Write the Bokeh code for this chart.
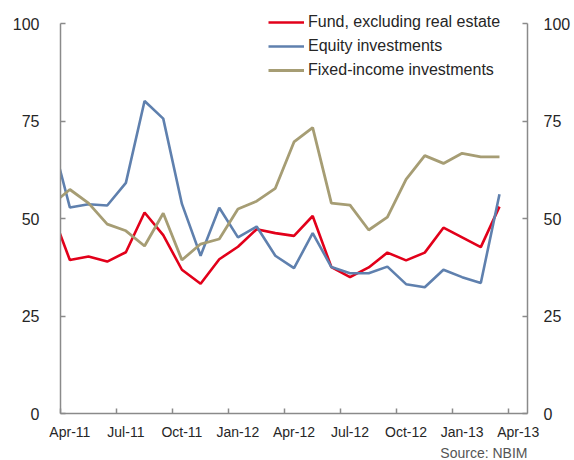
from bokeh.plotting import figure
from bokeh.models import Range1d, LinearAxis, FixedTicker, Legend, LegendItem, Title
from bokeh.embed import file_html
from bokeh.resources import INLINE

# Monthly observations (Mar-11 .. Mar-13), plotted at mid-month
months = ["Mar-11", "Apr-11", "May-11", "Jun-11", "Jul-11", "Aug-11", "Sep-11", "Oct-11",
          "Nov-11", "Dec-11", "Jan-12", "Feb-12", "Mar-12", "Apr-12", "May-12", "Jun-12",
          "Jul-12", "Aug-12", "Sep-12", "Oct-12", "Nov-12", "Dec-12", "Jan-13", "Feb-13",
          "Mar-13"]
fund = [52.2, 39.4, 40.3, 39.0, 41.4, 51.6, 45.8, 36.9, 33.3, 39.6, 42.8, 47.3, 46.3,
        45.6, 50.7, 37.6, 35.0, 37.5, 41.3, 39.3, 41.3, 47.7, 45.2, 42.7, 53.1]
equity = [71.3, 52.9, 53.7, 53.4, 59.2, 80.2, 75.7, 53.8, 40.5, 52.8, 45.2, 48.0, 40.5,
          37.3, 46.3, 37.6, 36.0, 36.0, 37.7, 33.2, 32.4, 36.9, 35.0, 33.5, 56.3]
fixed_income = [53.5, 57.5, 54.0, 48.6, 46.9, 43.0, 51.4, 39.4, 43.5, 44.8, 52.5, 54.5,
                57.8, 69.7, 73.4, 54.0, 53.5, 47.1, 50.4, 60.1, 66.2, 64.2, 66.8, 65.9, 65.9]

tick_labels = ["Apr-11", "Jul-11", "Oct-11", "Jan-12", "Apr-12", "Jul-12", "Oct-12",
               "Jan-13", "Apr-13"]
y_ticks = [0, 25, 50, 75, 100]

# month index relative to Apr-11, plotted at middle of month
x = [i - 1 + 0.5 for i in range(len(months))]

RED = "#E2001A"
BLUE = "#5F80AE"
TAN = "#A69D74"
AXIS = "#8a8a8a"
TXT = "#262626"
FONT = "Liberation Sans"

# frame extends a little above 100 so the legend (which sits above the 100 line) is not clipped
p = figure(width=574, height=460, output_backend="svg", toolbar_location=None,
           x_range=Range1d(0, 25), y_range=Range1d(0, 103.45),
           min_border_left=60, min_border_right=47, min_border_top=10, min_border_bottom=46)
p.outline_line_color = None
p.xgrid.visible = False
p.ygrid.visible = False
p.background_fill_color = "white"
p.border_fill_color = "white"

r1 = p.line(x, fund, line_color=RED, line_width=2.6)
r2 = p.line(x, equity, line_color=BLUE, line_width=2.6)
r3 = p.line(x, fixed_income, line_color=TAN, line_width=2.8)

# x axis: labels centred between quarter ticks
quarter_pos = [3 * k for k in range(len(tick_labels))]
xa = p.xaxis[0]
xa.ticker = FixedTicker(ticks=[q + 0.5 for q in quarter_pos], minor_ticks=quarter_pos)
xa.major_label_overrides = {q + 0.5: lab for q, lab in zip(quarter_pos, tick_labels)}
xa.major_tick_in = 0
xa.major_tick_out = 0
xa.minor_tick_in = 5
xa.minor_tick_out = 0
xa.minor_tick_line_color = AXIS
xa.minor_tick_line_width = 1.5
xa.axis_line_color = AXIS
xa.axis_line_width = 1.5
xa.major_label_text_font = FONT
xa.major_label_text_font_size = "14px"
xa.major_label_text_color = TXT
xa.major_label_standoff = 10

def style_y(ax, standoff):
    ax.ticker = FixedTicker(ticks=y_ticks, minor_ticks=[])
    ax.bounds = (0, 100)
    ax.major_tick_in = 5
    ax.major_tick_out = 0
    ax.major_tick_line_color = AXIS
    ax.major_tick_line_width = 1.5
    ax.minor_tick_line_color = None
    ax.axis_line_color = AXIS
    ax.axis_line_width = 1.5
    ax.major_label_text_font = FONT
    ax.major_label_text_font_size = "16px"
    ax.major_label_text_color = TXT
    ax.major_label_standoff = standoff

style_y(p.yaxis[0], 21)
ry = LinearAxis()
p.add_layout(ry, "right")
style_y(ry, 16)

src = Title(text="Source: NBIM", align="right", standoff=0, text_font=FONT,
            text_font_size="14px", text_font_style="normal", text_color="#555555")
p.add_layout(src, "below")

legend = Legend(items=[LegendItem(label="Fund, excluding real estate", renderers=[r1]),
                       LegendItem(label="Equity investments", renderers=[r2]),
                       LegendItem(label="Fixed-income investments", renderers=[r3])],
                location=(208, 333))
legend.glyph_width = 36
legend.glyph_height = 20
legend.label_height = 20
legend.label_standoff = 4
legend.spacing = 4
legend.padding = 0
legend.margin = 0
legend.border_line_color = None
legend.background_fill_alpha = 0
legend.label_text_font = FONT
legend.label_text_font_size = "16px"
legend.label_text_color = TXT
p.add_layout(legend)

open("out.html", "w").write(file_html(p, INLINE))
